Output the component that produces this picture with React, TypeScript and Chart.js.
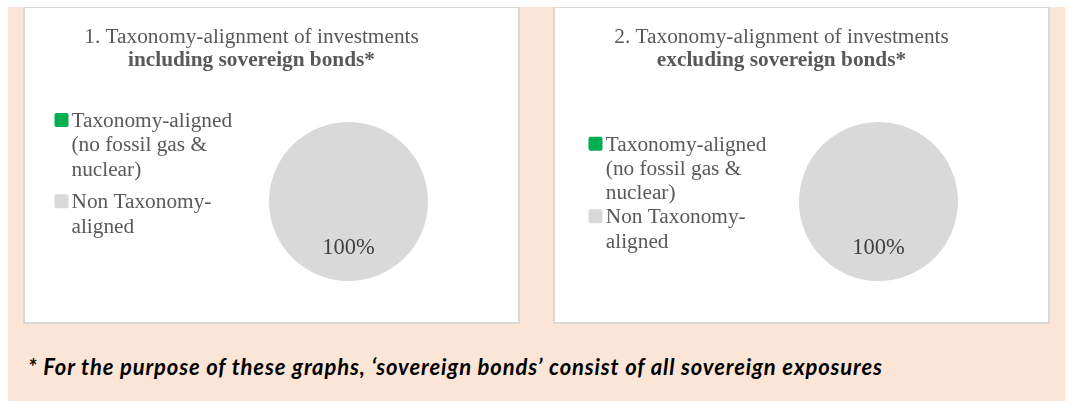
import React, { useEffect, useRef } from "react";
import { Chart, registerables } from "chart.js";

Chart.register(...registerables);

// ---------- data ----------
const categories: string[][] = [
  ["Taxonomy-aligned", "(no fossil gas &", "nuclear)"],
  ["Non Taxonomy-", "aligned"],
];
const includingSovereignValues = [0, 100];
const excludingSovereignValues = [0, 100];
const sliceColors = ["#00B050", "#D9D9D9"];
const chart1Title = ["1. Taxonomy-alignment of investments", "including sovereign bonds*"];
const chart2Title = ["2. Taxonomy-alignment of investments", "excluding sovereign bonds*"];
const footnoteText =
  "* For the purpose of these graphs, \u2018sovereign bonds\u2019 consist of all sovereign exposures";

const SERIF = '"Liberation Serif", "Times New Roman", serif';

type OverlayOpts = {
  title: string[];
  titleX: number;
  titleY: number[];
  boxX: number;
  textX: number;
  legendY: number;
  lineH: number;
  itemGap: number;
};

const overlayPlugin = {
  id: "overlay",
  afterDraw(chart: any, _args: any, opts: OverlayOpts) {
    const ctx = chart.ctx as CanvasRenderingContext2D;
    ctx.save();
    // titles
    ctx.textAlign = "center";
    ctx.textBaseline = "alphabetic";
    ctx.fillStyle = "#595959";
    ctx.font = `21.3px ${SERIF}`;
    ctx.fillText(opts.title[0], opts.titleX, opts.titleY[0]);
    ctx.font = `bold 21.3px ${SERIF}`;
    ctx.fillText(opts.title[1], opts.titleX, opts.titleY[1]);

    // legend
    const labels = chart.data.labels as string[][];
    const colors = chart.data.datasets[0].backgroundColor as string[];
    ctx.textAlign = "left";
    ctx.font = `21.3px ${SERIF}`;
    let y = opts.legendY;
    labels.forEach((lines, i) => {
      ctx.fillStyle = colors[i];
      ctx.beginPath();
      (ctx as any).roundRect(opts.boxX, y - 14, 14, 14, 2);
      ctx.fill();
      ctx.fillStyle = "#595959";
      lines.forEach((ln, j) => ctx.fillText(ln, opts.textX, y + j * opts.lineH));
      y += lines.length * opts.lineH + opts.itemGap;
    });

    // data labels
    const meta = chart.getDatasetMeta(0);
    const data = chart.data.datasets[0].data as number[];
    const total = data.reduce((a, b) => a + b, 0);
    ctx.textAlign = "center";
    ctx.fillStyle = "#404040";
    ctx.font = `22.5px ${SERIF}`;
    meta.data.forEach((arc: any, i: number) => {
      if (!data[i]) return;
      const p = arc.getProps(["x", "y", "startAngle", "endAngle", "outerRadius"], true);
      const mid = (p.startAngle + p.endAngle) / 2;
      const r = p.outerRadius * 0.66;
      const pct = Math.round((data[i] / total) * 100) + "%";
      ctx.fillText(pct, p.x + Math.cos(mid) * r, p.y + Math.sin(mid) * r);
    });
    ctx.restore();
  },
};

function PiePanel(props: {
  values: number[];
  overlay: OverlayOpts;
  left: number;
}) {
  const ref = useRef<HTMLCanvasElement | null>(null);
  useEffect(() => {
    if (!ref.current) return;
    const chart = new Chart(ref.current, {
      type: "pie",
      data: {
        labels: categories,
        datasets: [
          {
            data: props.values,
            backgroundColor: sliceColors,
            borderWidth: 0,
            hoverOffset: 0,
            offset: 0,
          },
        ],
      },
      options: {
        responsive: false,
        maintainAspectRatio: false,
        animation: false,
        events: [],
        layout: { padding: { left: 244, top: 114, right: 90, bottom: 41 } },
        plugins: {
          legend: { display: false },
          tooltip: { enabled: false },
          title: { display: false },
          overlay: props.overlay,
        } as any,
      },
      plugins: [overlayPlugin as any],
    });
    return () => chart.destroy();
  }, []);
  return (
    <div
      style={{
        position: "absolute",
        left: props.left,
        top: 0,
        width: 497,
        height: 317,
        boxSizing: "border-box",
        background: "#FFFFFF",
        borderTop: "1px solid #D9D9D9",
        borderLeft: "2px solid #D9D9D9",
        borderRight: "2px solid #D9D9D9",
        borderBottom: "2px solid #D9D9D9",
      }}
    >
      <canvas
        ref={ref}
        width={493}
        height={314}
        style={{ position: "absolute", left: 0, top: 0, width: 493, height: 314 }}
      />
    </div>
  );
}

export default function App() {
  return (
    <div
      style={{
        position: "absolute",
        left: 8,
        top: 7,
        width: 1057,
        height: 394,
        background: "#FBE5D6",
      }}
    >
      <PiePanel
        values={includingSovereignValues}
        left={15}
        overlay={{
          title: chart1Title,
          titleX: 226.5,
          titleY: [34.5, 58],
          boxX: 29.5,
          textX: 46.5,
          legendY: 119,
          lineH: 24.3,
          itemGap: 8.4,
        }}
      />
      <PiePanel
        values={excludingSovereignValues}
        left={545}
        overlay={{
          title: chart2Title,
          titleX: 226.5,
          titleY: [34.5, 58],
          boxX: 33.5,
          textX: 50.8,
          legendY: 142.7,
          lineH: 24.2,
          itemGap: 0,
        }}
      />
      <div
        style={{
          position: "absolute",
          left: 20,
          top: 346,
          fontFamily: "Lato, sans-serif",
          fontWeight: 700,
          fontStyle: "italic",
          fontSize: 22,
          letterSpacing: "0.86px",
          lineHeight: "normal",
          color: "#000000",
          whiteSpace: "nowrap",
        }}
      >
        {footnoteText}
      </div>
    </div>
  );
}
